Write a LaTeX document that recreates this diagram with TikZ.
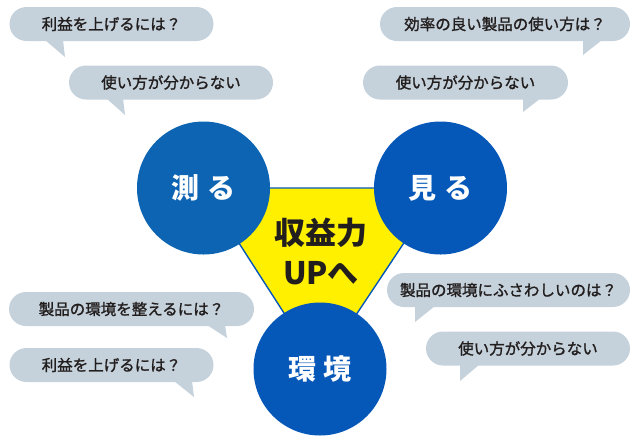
\documentclass[tikz,border=0pt]{standalone}
\usepackage{fontspec}
\newfontfamily\jp{Noto Sans CJK JP}
\newfontfamily\jpm[FakeBold=1.3]{Noto Sans CJK JP}
\definecolor{blueA}{RGB}{12,100,178}
\definecolor{blueB}{RGB}{6,88,184}
\definecolor{bubble}{RGB}{197,210,220}
\definecolor{ink}{RGB}{35,30,30}
\definecolor{yel}{RGB}{255,240,0}
\tikzset{
  bub/.style={fill=bubble, draw=none, rounded corners=17pt, minimum height=34pt, inner sep=0pt, font=\jpm\fontsize{15.5}{16}\selectfont, text=ink},
  tail/.style={fill=bubble, draw=none},
  circ/.style={circle, minimum size=133pt, inner sep=0pt, text=white, font=\jp\bfseries\fontsize{28}{30}\selectfont},
}
\begin{document}
\begin{tikzpicture}[x=1pt,y=-1pt]
\useasboundingbox (0,0) rectangle (640,440);
% triangle
\coordinate (t1) at (203.5,188);
\coordinate (t2) at (440.5,188);
\coordinate (t3) at (320,369);
\fill[yel, draw=blueB, line width=1.4pt, line join=round] (t1) -- (t2) -- (t3) -- cycle;
\node[font=\jp\bfseries\fontsize{31}{40}\selectfont, text=ink, align=center] (core) at (321,251) {収益力\\UPへ};
% circles
\node[circ, fill=blueA] (hakaru) at (t1) {測\hspace{8pt}る};
\node[circ, fill=blueB] (miru) at (t2) {見\hspace{8pt}る};
\node[circ, fill=blueB] (kankyo) at (t3) {環\hspace{8pt}境};
% bubbles: tails first
\fill[tail] (45,40) -- (63,40) -- (65,57) -- cycle;
\fill[tail] (106,98) -- (123,98) -- (125,115) -- cycle;
\fill[tail] (583,40) -- (602,40) -- (583,55) -- cycle;
\fill[tail] (523,98) -- (541,98) -- (523,112) -- cycle;
\fill[tail] (207,325) -- (225,325) -- (227,338) -- cycle;
\fill[tail] (174,381) -- (192,381) -- (194,397) -- cycle;
\fill[tail] (415,306) -- (435,306) -- (415,322) -- cycle;
\fill[tail] (460,364) -- (480,364) -- (460,381) -- cycle;
\node[bub, minimum width=204pt] (b1) at (111.5,24) {利益を上げるには？};
\node[bub, minimum width=204pt] (b2) at (171,82.5) {使い方が分からない};
\node[bub, minimum width=250pt] (b3) at (505,24) {効率の良い製品の使い方は？};
\node[bub, minimum width=205pt] (b4) at (465.5,82.5) {使い方が分からない};
\node[bub, minimum width=245pt] (b5) at (131.5,309) {製品の環境を整えるには？};
\node[bub, minimum width=204pt] (b6) at (111.5,365) {利益を上げるには？};
\node[bub, minimum width=243pt] (b7) at (508.5,290) {製品の環境にふさわしいのは？};
\node[bub, minimum width=204pt] (b8) at (528,348.5) {使い方が分からない};
\end{tikzpicture}
\end{document}
